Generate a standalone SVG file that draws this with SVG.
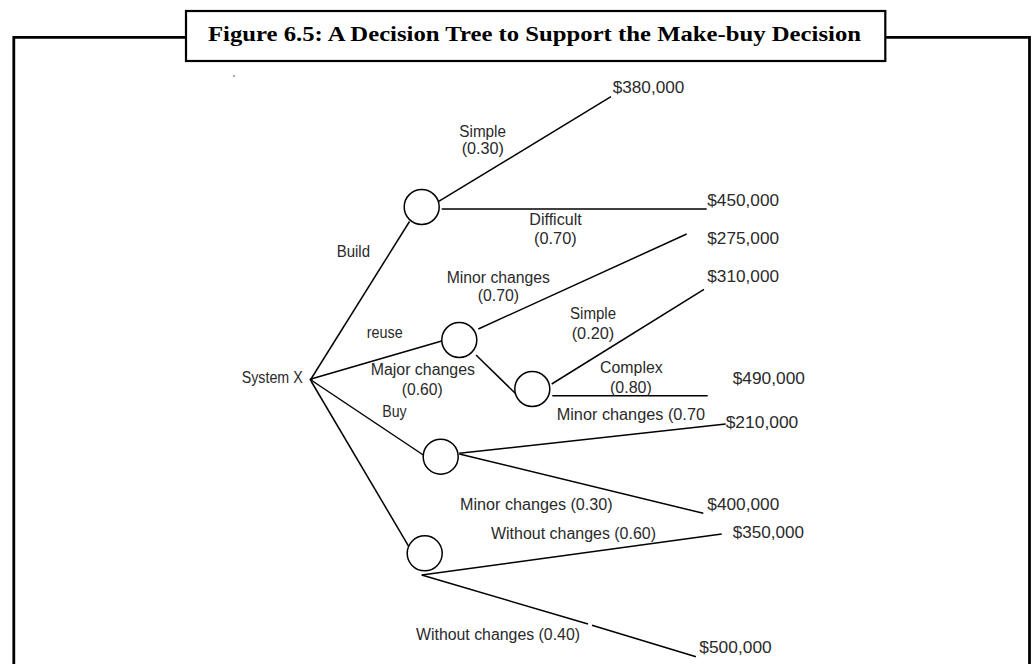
<svg xmlns="http://www.w3.org/2000/svg" width="1034" height="664" viewBox="0 0 1034 664">
<style>
.frame{fill:none;stroke:#000;stroke-width:2.8}
.tbox{fill:#fff;stroke:#000;stroke-width:2.2}
.title{font-family:"Liberation Serif","Times New Roman",serif;font-weight:bold;font-size:20.5px;fill:#000}
.edge{fill:none;stroke:#000;stroke-width:1.5}
.node{fill:#fff;stroke:#000;stroke-width:1.5}
.lbl{font-family:"Liberation Sans",Arial,sans-serif;font-size:16px;fill:#2a2a2a}
</style>
<rect width="1034" height="664" fill="#fff"/>
<g id="frame">
<polyline class="frame" points="13.8,664 13.8,37.3 186,37.3"/>
<polyline class="frame" points="885,37.3 1029.5,37.3 1029.5,664"/>
<rect class="tbox" x="186" y="11" width="699.3" height="50"/>
<text class="title" x="208" y="40.5" textLength="653" lengthAdjust="spacingAndGlyphs">Figure 6.5: A Decision Tree to Support the Make-buy Decision</text>
<circle cx="234" cy="76" r="0.8" fill="#444"/>
</g>
<g id="connectors">
<line class="edge" x1="311" y1="379" x2="409.5" y2="221.5"/>
<line class="edge" x1="438.3" y1="201.7" x2="611" y2="96.7"/>
<line class="edge" x1="441.7" y1="209" x2="706.7" y2="209"/>
<line class="edge" x1="311" y1="379" x2="441.7" y2="341"/>
<line class="edge" x1="478.3" y1="329" x2="686.7" y2="234"/>
<line class="edge" x1="476" y1="355" x2="516" y2="394"/>
<line class="edge" x1="551.7" y1="384" x2="704" y2="289.3"/>
<line class="edge" x1="552.3" y1="395.7" x2="707.7" y2="395.7"/>
<line class="edge" x1="311" y1="380" x2="423.3" y2="455"/>
<line class="edge" x1="459.3" y1="453.3" x2="725.7" y2="424"/>
<line class="edge" x1="459.3" y1="454" x2="703.3" y2="513.3"/>
<line class="edge" x1="311" y1="381" x2="409.3" y2="547.3"/>
<line class="edge" x1="421.7" y1="575" x2="721.7" y2="534"/>
<line class="edge" x1="421.7" y1="575" x2="588" y2="624"/>
<line class="edge" x1="592" y1="625.3" x2="696" y2="656.7"/>
<circle cx="311" cy="379.5" r="1.5" fill="#000"/>
</g>
<g id="root"><text class="lbl" x="241.7" y="383" textLength="61" lengthAdjust="spacingAndGlyphs">System X</text></g>
<g id="n-build"><circle class="node" cx="421.7" cy="207" r="17.5"/></g>
<g id="n-reuse"><circle class="node" cx="459.3" cy="340" r="17.5"/></g>
<g id="n-major"><circle class="node" cx="532.3" cy="389" r="17.5"/></g>
<g id="n-buy"><circle class="node" cx="440.7" cy="456.7" r="17.5"/></g>
<g id="n-without"><circle class="node" cx="424.7" cy="553.3" r="17.5"/></g>
<g id="labels">
<text class="lbl" x="459.3" y="137" textLength="46.7" lengthAdjust="spacingAndGlyphs">Simple</text>
<text class="lbl" x="461.7" y="154" textLength="42.3" lengthAdjust="spacingAndGlyphs">(0.30)</text>
<text class="lbl" x="336.7" y="256.7" textLength="33.3" lengthAdjust="spacingAndGlyphs">Build</text>
<text class="lbl" x="529.3" y="225" textLength="52.4" lengthAdjust="spacingAndGlyphs">Difficult</text>
<text class="lbl" x="534" y="243.5" textLength="42.7" lengthAdjust="spacingAndGlyphs">(0.70)</text>
<text class="lbl" x="446.7" y="282.7" textLength="103.3" lengthAdjust="spacingAndGlyphs">Minor changes</text>
<text class="lbl" x="477.7" y="301" textLength="41.3" lengthAdjust="spacingAndGlyphs">(0.70)</text>
<text class="lbl" x="366.7" y="338.3" textLength="36" lengthAdjust="spacingAndGlyphs">reuse</text>
<text class="lbl" x="370.7" y="375" textLength="104.3" lengthAdjust="spacingAndGlyphs">Major changes</text>
<text class="lbl" x="401.7" y="394.5" textLength="41" lengthAdjust="spacingAndGlyphs">(0.60)</text>
<text class="lbl" x="382.3" y="417.3" textLength="24.4" lengthAdjust="spacingAndGlyphs">Buy</text>
<text class="lbl" x="570" y="319.3" textLength="46" lengthAdjust="spacingAndGlyphs">Simple</text>
<text class="lbl" x="571.7" y="339" textLength="42.6" lengthAdjust="spacingAndGlyphs">(0.20)</text>
<text class="lbl" x="600" y="372.7" textLength="62.7" lengthAdjust="spacingAndGlyphs">Complex</text>
<text class="lbl" x="610" y="392.5" textLength="41.7" lengthAdjust="spacingAndGlyphs">(0.80)</text>
<text class="lbl" x="556.7" y="420" textLength="148.3" lengthAdjust="spacingAndGlyphs">Minor changes (0.70</text>
<text class="lbl" x="460" y="510" textLength="152.7" lengthAdjust="spacingAndGlyphs">Minor changes (0.30)</text>
<text class="lbl" x="491" y="539.3" textLength="165" lengthAdjust="spacingAndGlyphs">Without changes (0.60)</text>
<text class="lbl" x="416" y="640" textLength="164" lengthAdjust="spacingAndGlyphs">Without changes (0.40)</text>
</g>
<g id="values">
<text class="lbl" x="612.7" y="92.7" textLength="71.6" lengthAdjust="spacingAndGlyphs">$380,000</text>
<text class="lbl" x="707.3" y="205.7" textLength="71.7" lengthAdjust="spacingAndGlyphs">$450,000</text>
<text class="lbl" x="707.3" y="244" textLength="71.7" lengthAdjust="spacingAndGlyphs">$275,000</text>
<text class="lbl" x="707.3" y="281.7" textLength="71.7" lengthAdjust="spacingAndGlyphs">$310,000</text>
<text class="lbl" x="732.7" y="384.3" textLength="72.3" lengthAdjust="spacingAndGlyphs">$490,000</text>
<text class="lbl" x="725.7" y="428.3" textLength="72.6" lengthAdjust="spacingAndGlyphs">$210,000</text>
<text class="lbl" x="707.3" y="510" textLength="72" lengthAdjust="spacingAndGlyphs">$400,000</text>
<text class="lbl" x="732.7" y="537.7" textLength="71.3" lengthAdjust="spacingAndGlyphs">$350,000</text>
<text class="lbl" x="699.3" y="653.3" textLength="72.4" lengthAdjust="spacingAndGlyphs">$500,000</text>
</g>
</svg>
